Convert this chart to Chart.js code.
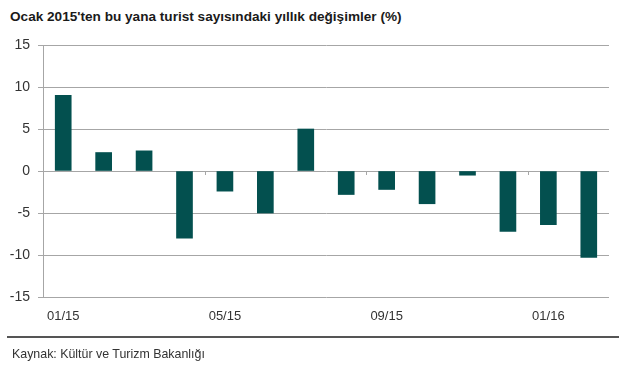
<!DOCTYPE html>
<html>
<head>
<meta charset="utf-8">
<script src="https://cdn.jsdelivr.net/npm/chart.js@4.4.1/dist/chart.umd.min.js"></script>
<style>
  html, body { margin: 0; padding: 0; background: #fff; }
  body { width: 630px; height: 371px; position: relative; overflow: hidden; font-family: "Liberation Sans", Arial, sans-serif; }
  #title { position: absolute; left: 10px; top: 9px; font-size: 13.6px; font-weight: bold; color: #1a1a1a; white-space: nowrap; }
  #rule { position: absolute; left: 7px; top: 336px; width: 612px; height: 2px; background: #555; }
  #source { position: absolute; left: 12px; top: 347px; font-size: 12.4px; color: #333; white-space: nowrap; }
  canvas { position: absolute; left: 0; top: 0; }
</style>
</head>
<body>
<div id="title">Ocak 2015'ten bu yana turist sayısındaki yıllık değişimler (%)</div>
<canvas id="chart" width="630" height="371"></canvas>
<div id="rule"></div>
<div id="source">Kaynak: Kültür ve Turizm Bakanlığı</div>
<script>
// months Jan 2015 .. Feb 2016
const months = ['01/15', '02/15', '03/15', '04/15', '05/15', '06/15', '07/15',
  '08/15', '09/15', '10/15', '11/15', '12/15', '01/16', '02/16'];
// yearly change in tourist numbers (%)
const changes = [9.0, 2.2, 2.4, -8.0, -2.4, -5.0, 5.0, -2.8, -2.2, -3.9, -0.5, -7.2, -6.4, -10.3];
const yTicks = [-15, -10, -5, 0, 5, 10, 15];
const labelEvery = 4;

// small tick marks under the zero line, every 4 months
const zeroTicks = {
  id: 'zeroTicks',
  afterDatasetsDraw(chart) {
    const x = chart.scales.x, y = chart.scales.y;
    const ctx = chart.ctx;
    const y0 = y.getPixelForValue(0);
    const half = (x.getPixelForValue(1) - x.getPixelForValue(0)) / 2;
    ctx.save();
    ctx.strokeStyle = '#a6a6a6';
    ctx.lineWidth = 1;
    for (let i = labelEvery; i < months.length; i += labelEvery) {
      const px = Math.round(x.getPixelForValue(i) - half) + 0.5;
      ctx.beginPath();
      ctx.moveTo(px, y0);
      ctx.lineTo(px, y0 + 4);
      ctx.stroke();
    }
    ctx.restore();
  }
};

const ctx = document.getElementById('chart').getContext('2d');
new Chart(ctx, {
  type: 'bar',
  data: {
    labels: months,
    datasets: [{
      data: changes,
      backgroundColor: '#03504f',
      borderWidth: 0,
      barThickness: 16
    }]
  },
  options: {
    responsive: false,
    animation: false,
    layout: { padding: { left: 0, top: 45, right: 21, bottom: 49 } },
    plugins: { legend: { display: false }, tooltip: { enabled: false } },
    scales: {
      x: {
        grid: { display: false },
        border: { display: false },
        ticks: {
          autoSkip: false,
          maxRotation: 0,
          color: '#333',
          font: { family: 'Liberation Sans', size: 13 },
          padding: 4,
          callback: (v, i) => (i % labelEvery === 0 ? months[i] : '')
        },
        afterFit: s => { s.height = 25; }
      },
      y: {
        min: -15,
        max: 15,
        afterBuildTicks: s => { s.ticks = yTicks.map(v => ({ value: v })); },
        grid: { color: '#a6a6a6', lineWidth: 1, tickLength: 5 },
        border: { display: true, color: '#a6a6a6' },
        ticks: {
          color: '#333',
          font: { family: 'Liberation Sans', size: 14 },
          padding: 8
        },
        afterFit: s => { s.width = 43; }
      }
    }
  },
  plugins: [zeroTicks]
});
</script>
</body>
</html>
